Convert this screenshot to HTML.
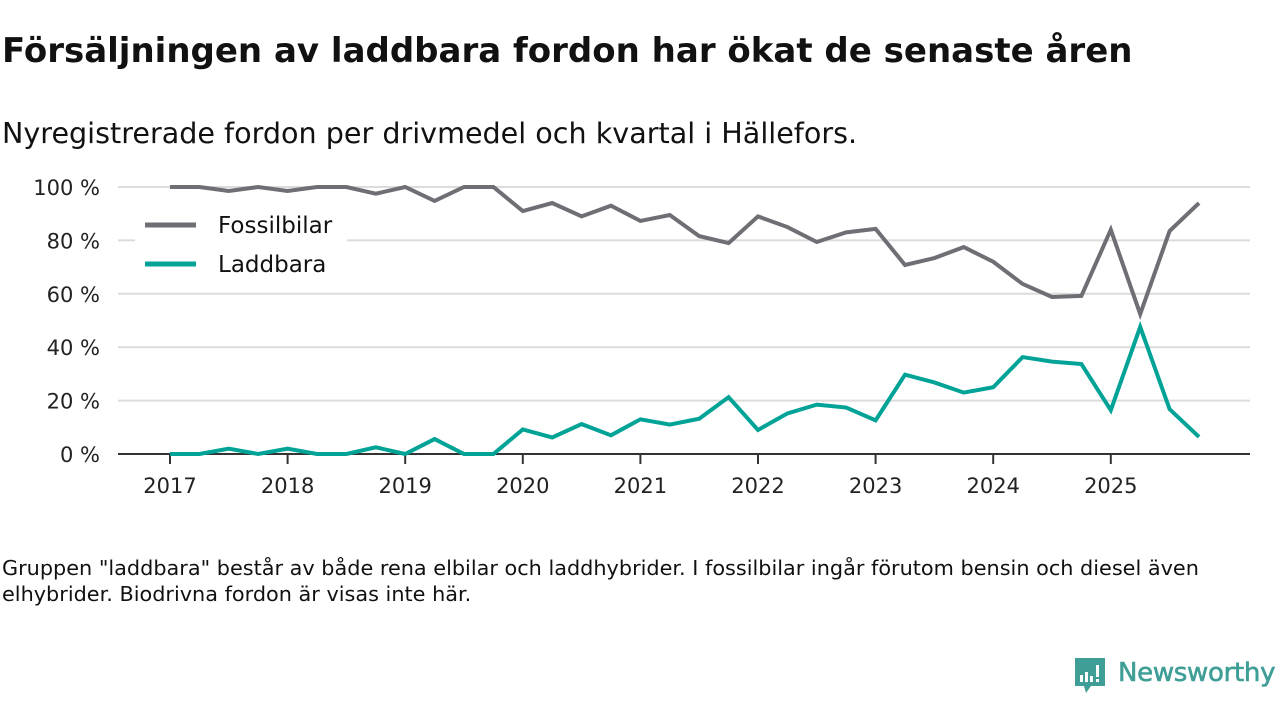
<!DOCTYPE html>
<html><head><meta charset="utf-8"><style>
body{margin:0;width:1280px;height:720px;background:#fff;font-family:"DejaVu Sans",sans-serif;color:#111;overflow:hidden;position:relative}
.t{position:absolute;left:2px;top:31px;font-size:34px;font-weight:bold;margin:0;white-space:nowrap}
.s{position:absolute;left:2px;top:116px;font-size:28.6px;white-space:nowrap}
.f{position:absolute;left:2px;top:555px;font-size:20.8px;line-height:26px;width:1240px}
svg{position:absolute;left:0;top:0}
</style></head><body>
<h1 class="t">Försäljningen av laddbara fordon har ökat de senaste åren</h1>
<div class="s">Nyregistrerade fordon per drivmedel och kvartal i Hällefors.</div>
<svg id="c" width="1280" height="720"></svg>
<div class="f">Gruppen "laddbara" består av både rena elbilar och laddhybrider. I fossilbilar ingår förutom bensin och diesel även elhybrider. Biodrivna fordon är visas inte här.</div>
<div style="position:absolute;left:1073px;top:657px;width:210px;height:40px">
<svg width="34" height="40" style="position:absolute;left:0;top:0"><path d="M2 1h30v28H18l-5 7-2-7H2z" fill="#3f9e96"/><rect x="7" y="18" width="3" height="7" fill="#fff"/><rect x="12" y="15" width="3" height="10" fill="#fff"/><rect x="17" y="19" width="3" height="6" fill="#fff"/><rect x="23" y="8" width="3" height="12" fill="#fff"/><rect x="23" y="22" width="3" height="3" fill="#fff"/></svg>
<span style="position:absolute;left:45px;top:1px;font-size:26px;color:#3f9e96;-webkit-text-stroke:0.6px #3f9e96;letter-spacing:-0.3px">Newsworthy</span></div>
<script>
const years=["2017","2018","2019","2020","2021","2022","2023","2024","2025"];
const yTicks=[0,20,40,60,80,100];
const fossil=[100,100,98.5,100,98.5,100,100,97.5,100,94.8,100,100,91,94,89,93,87.3,89.5,81.6,79,89,85,79.4,83,84.3,70.8,73.4,77.5,72,63.7,58.8,59.2,84,52.4,83.5,94];
const laddbara=[0,0,2,0,2,0,0,2.5,0,5.6,0,0,9.2,6.2,11.2,7,13,11,13.2,21.3,9,15.2,18.5,17.4,12.6,29.7,26.8,23,25,36.3,34.6,33.7,16.4,47.6,16.8,6.4];
const svg=document.getElementById('c');const NS='http://www.w3.org/2000/svg';
const X=t=>170+t*117.6; const Y=v=>454-v*2.67;
function mk(tag,a){const e=document.createElementNS(NS,tag);for(const k in a)e.setAttribute(k,a[k]);svg.appendChild(e);return e;}
yTicks.forEach(v=>{
 if(v>0){const g=mk('line',{x1:118,x2:1250,y1:Y(v),y2:Y(v),stroke:'#dcdcdc','stroke-width':2});
 
 }
 const t=mk('text',{x:100,y:Y(v)+8,'text-anchor':'end','font-size':21,fill:'#222'});t.textContent=v+' %';
 
 
});
const ax=mk('line',{x1:118,x2:1250,y1:454,y2:454,stroke:'#333','stroke-width':2});


years.forEach((y,i)=>{mk('line',{x1:X(i),x2:X(i),y1:454,y2:464,stroke:'#333','stroke-width':2});
 const t=mk('text',{x:X(i),y:493,'text-anchor':'middle','font-size':21,fill:'#222'});t.textContent=y;
 
 });
function line(d,c,n){const p=mk('polyline',{points:d.map((v,i)=>X(i/4)+','+Y(v)).join(' '),fill:'none',stroke:c,'stroke-width':4,'stroke-linejoin':'miter'});
 
 }
line(fossil,'#6f6e75','fossilbilar-line');line(laddbara,'#00a396','laddbara-line');
mk('rect',{x:135,y:208,width:212,height:80,fill:'#fff'});
[['Fossilbilar','#6f6e75',225],['Laddbara','#00a396',264]].forEach(([n,c,y])=>{
 mk('line',{x1:145,x2:196,y1:y,y2:y,stroke:c,'stroke-width':5});
 const t=mk('text',{x:218,y:y+8,'font-size':23,fill:'#111'});t.textContent=n;
 
 });
</script>
</body></html>
